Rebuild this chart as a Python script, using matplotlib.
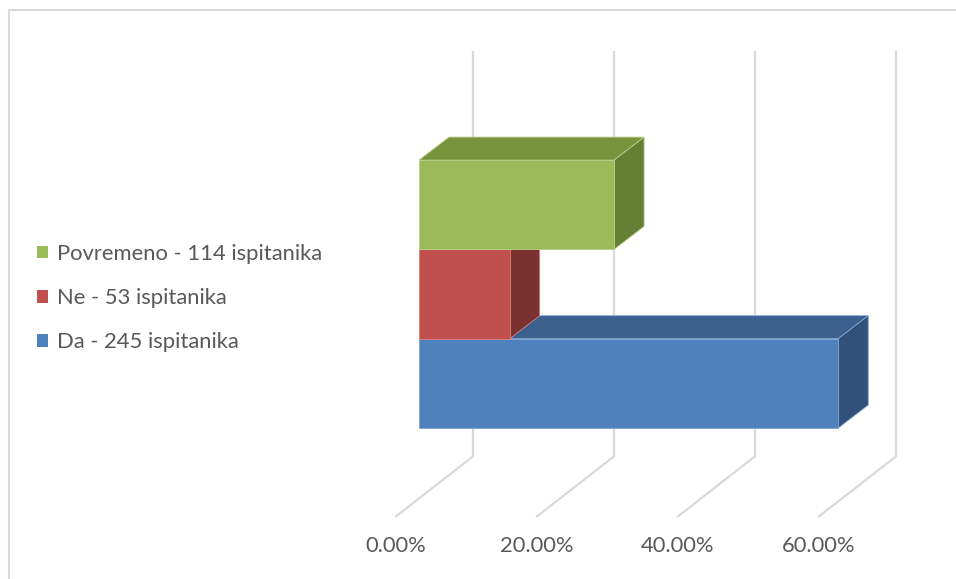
import matplotlib
matplotlib.use("Agg")
import matplotlib.pyplot as plt
from matplotlib.patches import Polygon, Patch
from matplotlib.lines import Line2D

plt.rcParams["font.family"] = ["Lato", "DejaVu Sans"]

# data
categories = ["Da - 245 ispitanika", "Ne - 53 ispitanika", "Povremeno - 114 ispitanika"]
counts = [245, 53, 114]
total = sum(counts)
shares = [100.0 * c / total for c in counts]
ticks = [0, 20, 40, 60]
tick_labels = ["0.00%", "20.00%", "40.00%", "60.00%"]

front_colors = ["#4F81BD", "#C0504D", "#9BBB59"]
top_colors = ["#3C618E", "#8E3B39", "#77933C"]
side_colors = ["#32507A", "#7A3230", "#647E33"]
edge_colors = ["#7FA3D0", "#D88482", "#B9D08A"]

W, H = 956, 579
fig = plt.figure(figsize=(W / 100, H / 100), dpi=100)

# pixel scales of the front plane of the bars
kx = 7.05     # px per percent
ky = 89.3     # px per category
ox, oy = 419, H - 428   # pixel position of (0%, 0)

ax = fig.add_axes([0, 0, 1, 1])
ax.set_xlim((0 - ox) / kx, (W - ox) / kx)
ax.set_ylim((0 - oy) / ky, (H - oy) / ky)
ax.axis("off")

# oblique depth offsets (data units)
bar_dx, bar_dy = 30 / kx, 23 / ky
wall_dx, wall_dy = 54 / kx, 42 / ky
front_dx, front_dy = -23 / kx, -18 / ky
y_floor = -0.788
y_top = (428 - 52) / ky

fs = 15.8
grid_c = "#D9D9D9"
for t, lab in zip(ticks, tick_labels):
    xb = t + wall_dx
    yb = y_floor + wall_dy
    xf = t + front_dx
    yf = y_floor + front_dy
    ax.plot([xb, xb, xf], [y_top, yb, yf], color=grid_c, lw=1.6, zorder=1)
    ax.text(xf, yf - 30 / ky, lab, ha="center", va="center",
            fontsize=fs, color="#595959")

# bars drawn bottom to top
for i, v in enumerate(shares):
    y0, y1 = i, i + 1
    front = [(0, y0), (v, y0), (v, y1), (0, y1)]
    top = [(0, y1), (v, y1), (v + bar_dx, y1 + bar_dy), (bar_dx, y1 + bar_dy)]
    side = [(v, y0), (v + bar_dx, y0 + bar_dy), (v + bar_dx, y1 + bar_dy), (v, y1)]
    for pts, c in [(top, top_colors[i]), (side, side_colors[i]), (front, front_colors[i])]:
        ax.add_patch(Polygon(pts, closed=True, facecolor=c, edgecolor=edge_colors[i],
                             lw=0.6, zorder=2 + i))

# legend
handles = [Patch(facecolor=front_colors[i], edgecolor="none") for i in range(3)][::-1]
leg = fig.legend(handles, categories[::-1], loc="center left",
                 bbox_to_anchor=(37 / W, (H - 298) / H), frameon=False,
                 fontsize=fs, labelcolor="#595959", handlelength=0.52,
                 handleheight=0.52, handletextpad=0.37, labelspacing=1.1,
                 borderaxespad=0, borderpad=0)

# chart border (top and left visible)
fig.add_artist(Line2D([8.5 / W, 8.5 / W, 1], [0, (H - 10) / H, (H - 10) / H],
                      color="#D9D9D9", lw=1.5, transform=fig.transFigure))

fig.savefig("out.png", dpi=100)
